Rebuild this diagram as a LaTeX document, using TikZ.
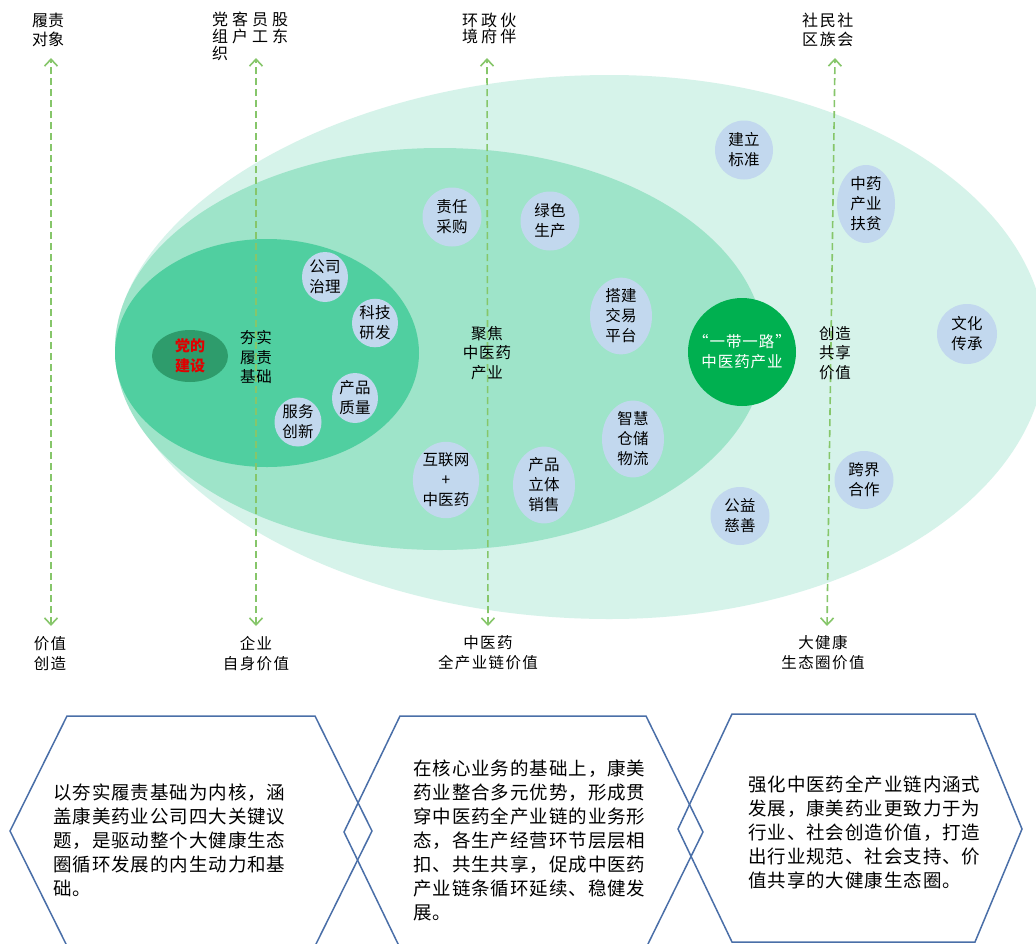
\documentclass[tikz,border=0pt]{standalone}
\usepackage{fontspec}
\newfontfamily\cjk{Noto Sans CJK SC}
\usetikzlibrary{arrows.meta,shapes.geometric}
\definecolor{outerC}{HTML}{D6F3EA}
\definecolor{midC}{HTML}{9EE4C9}
\definecolor{innerC}{HTML}{50CFA0}
\definecolor{darkC}{HTML}{2E9C6C}
\definecolor{bubbleC}{HTML}{C2D8EE}
\definecolor{beltC}{HTML}{00B050}
\definecolor{dashC}{HTML}{86C66A}
\definecolor{hexC}{HTML}{4A6FA8}
\definecolor{redC}{HTML}{E00000}
\begin{document}
\begin{tikzpicture}[x=1pt,y=-1pt,
  bubble/.style={ellipse,fill=bubbleC,draw=none,inner sep=0pt,align=center,
    font={\cjk\fontsize{15.5}{20}\selectfont\addfontfeature{LetterSpace=1}}},
  midlabel/.style={inner sep=0pt,align=center,
    font={\cjk\fontsize{15.5}{19.5}\selectfont\addfontfeature{LetterSpace=5}}},
  toplabel/.style={inner sep=0pt,align=left,
    font={\cjk\fontsize{16}{17}\selectfont\addfontfeature{LetterSpace=25}}},
  botlabel/.style={inner sep=0pt,align=center,
    font={\cjk\fontsize{15.5}{20.5}\selectfont\addfontfeature{LetterSpace=9}}},
  hextext/.style={inner sep=0pt,align=left,anchor=west,
    font={\cjk\fontsize{18.5}{24.1}\selectfont\addfontfeature{LetterSpace=5}}},
  vlink/.style={draw=dashC,line width=1.6pt,dash pattern=on 7pt off 4pt,
    {Straight Barb[length=7pt,width=13pt]}-{Straight Barb[length=7pt,width=13pt]}},
  hexline/.style={draw=hexC,line width=1.5pt,line join=miter}
]
\fill[white] (0,0) rectangle (1036,943);
\useasboundingbox (0,0) rectangle (1036,943);

% ecosystem rings
\fill[outerC] (115,347) .. controls (118,215) and (330,75) .. (610,75)
  arc[start angle=-90,end angle=90,x radius=436,y radius=272]
  .. controls (330,619) and (118,479) .. (115,347) -- cycle;
\fill[midC] (440,349) ellipse [x radius=325,y radius=201];
\fill[innerC] (267,353) ellipse [x radius=152,y radius=114];

% dashed value axes
\coordinate (t1) at (51,58);  \coordinate (b1) at (51,626);
\coordinate (t2) at (256,58); \coordinate (b2) at (256,626);
\coordinate (t3) at (487,58); \coordinate (b3) at (488,626);
\coordinate (t4) at (835,58); \coordinate (b4) at (827,626);
\draw[vlink] (b1) -- (t1);
\draw[vlink] (b2) -- (t2);
\draw[vlink] (b3) -- (t3);
\draw[vlink] (b4) -- (t4);

% core
\node[ellipse,fill=darkC,minimum width=76pt,minimum height=52pt,inner sep=0pt,align=center,
  text=redC,font={\cjk\bfseries\fontsize{15}{20}\selectfont}] (party) at (190,356) {党的\\建设};

% bubbles
\node[bubble,minimum width=46pt,minimum height=50pt] (gov) at (325,277) {公司\\治理};
\node[bubble,minimum width=46pt,minimum height=48pt] (tech) at (375,323) {科技\\研发};
\node[bubble,minimum width=46pt,minimum height=50pt] (qual) at (355,398) {产品\\质量};
\node[bubble,minimum width=47pt,minimum height=49pt] (serv) at (298,422) {服务\\创新};
\node[bubble,minimum width=59pt,minimum height=59pt] (purch) at (452,217) {责任\\采购};
\node[bubble,minimum width=59pt,minimum height=59pt] (green) at (550,221) {绿色\\生产};
\node[bubble,minimum width=62pt,minimum height=76pt] (trade) at (621,316) {搭建\\交易\\平台};
\node[bubble,minimum width=66pt,minimum height=76pt] (inet) at (446,480) {互联网\\+\\中医药};
\node[bubble,minimum width=62pt,minimum height=74pt] (sales) at (544,485) {产品\\立体\\销售};
\node[bubble,minimum width=62pt,minimum height=72pt] (store) at (633,439) {智慧\\仓储\\物流};
\node[bubble,minimum width=58pt,minimum height=59pt] (std) at (744,150) {建立\\标准};
\node[bubble,minimum width=58pt,minimum height=78pt] (pov) at (866,204) {中药\\产业\\扶贫};
\node[bubble,minimum width=60pt,minimum height=60pt] (cult) at (967,334) {文化\\传承};
\node[bubble,minimum width=59pt,minimum height=58pt] (cross) at (864,480) {跨界\\合作};
\node[bubble,minimum width=59pt,minimum height=58pt] (char) at (740,516) {公益\\慈善};

\node[circle,fill=beltC,minimum size=108pt,inner sep=0pt,align=center,text=white,
  font={\cjk\fontsize{15.5}{20}\selectfont\addfontfeature{LetterSpace=6}}] (belt) at (742,352)
  {“一带一路”\\中医药产业};

% ring labels
\node[midlabel] (l1) at (256,357) {夯实\\履责\\基础};
\node[midlabel] (l2) at (487,353) {聚焦\\中医药\\产业};
\node[midlabel] (l3) at (835,353) {创造\\共享\\价值};

% top labels
\node[inner sep=0pt,align=center,font={\cjk\fontsize{16}{19.5}\selectfont}] (top1) at (48,30) {履责\\对象};
\node[toplabel,anchor=west] (top2) at (212,36.5) {党客员股\\组户工东\\织};
\node[toplabel,anchor=west,font={\cjk\fontsize{16}{16.5}\selectfont\addfontfeature{LetterSpace=19}}] (top3) at (462,28.5) {环政伙\\境府伴};
\node[toplabel,anchor=west,font={\cjk\fontsize{16}{19.5}\selectfont\addfontfeature{LetterSpace=10}}] (top4) at (802,30) {社民社\\区族会};

% bottom labels
\node[botlabel] (bot1) at (50,653.5) {价值\\创造};
\node[botlabel] (bot2) at (256,653.5) {企业\\自身价值};
\node[botlabel] (bot3) at (488,652.5) {中医药\\全产业链价值};
\node[botlabel] (bot4) at (823,652.5) {大健康\\生态圈价值};

% hexagons
\draw[hexline] (67,716) -- (315,716) -- (372,831) -- (315,946) -- (67,946) -- (10,831) -- cycle;
\draw[hexline] (400,716) -- (646,716) -- (703,832) -- (646,948) -- (400,948) -- (344,832) -- cycle;
\draw[hexline] (732,714) -- (975,714) -- (1022,829) -- (975,942) -- (732,942) -- (678,829) -- cycle;

\node[hextext] (h1) at (53,840) {以夯实履责基础为内核，涵\\盖康美药业公司四大关键议\\题，是驱动整个大健康生态\\圈循环发展的内生动力和基\\础。};
\node[hextext] (h2) at (413,840.5) {在核心业务的基础上，康美\\药业整合多元优势，形成贯\\穿中医药全产业链的业务形\\态，各生产经营环节层层相\\扣、共生共享，促成中医药\\产业链条循环延续、稳健发\\展。};
\node[hextext] (h3) at (748,832.5) {强化中医药全产业链内涵式\\发展，康美药业更致力于为\\行业、社会创造价值，打造\\出行业规范、社会支持、价\\值共享的大健康生态圈。};
\end{tikzpicture}
\end{document}
